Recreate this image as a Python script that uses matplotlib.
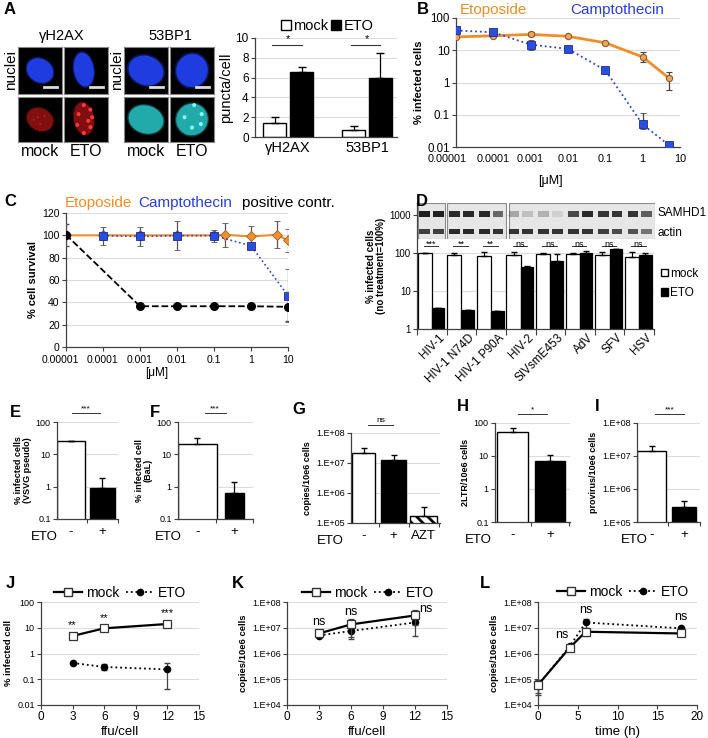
import matplotlib
matplotlib.use("Agg")
import matplotlib.pyplot as plt
import numpy as np
from matplotlib.patches import Ellipse, Circle, Rectangle, Patch
from matplotlib.lines import Line2D
from matplotlib.ticker import NullLocator
from matplotlib.transforms import ScaledTranslation

plt.rcParams['font.family'] = ['Liberation Sans', 'DejaVu Sans']
plt.rcParams['hatch.linewidth'] = 2.0

# ---------------- data ----------------
# A: foci per cell
a_targets = ["γH2AX", "53BP1"]
a_mock = [1.45, 0.75]
a_mock_err = [0.6, 0.4]
a_eto = [6.55, 5.95]
a_eto_err = [0.55, 2.5]
a_sig = ["*", "*"]

# A: micrographs (nucleus centre x, y, width, height, angle) and foci
a_cells = ["γH2AX mock", "γH2AX ETO", "53BP1 mock", "53BP1 ETO"]
a_nucleus = [(0.5, 0.5, 0.62, 0.5, -25), (0.45, 0.52, 0.45, 0.72, 10),
             (0.5, 0.5, 0.8, 0.62, -15), (0.5, 0.5, 0.72, 0.7, 25)]
a_foci_x = [[0.45, 0.6, 0.5, 0.36],
            [0.45, 0.6, 0.64, 0.6, 0.45, 0.33, 0.3, 0.55],
            [],
            [0.55, 0.33, 0.5, 0.7, 0.72]]
a_foci_y = [[0.55, 0.58, 0.4, 0.5],
            [0.82, 0.72, 0.55, 0.33, 0.2, 0.62, 0.38, 0.47],
            [],
            [0.82, 0.55, 0.32, 0.4, 0.62]]

# B: infection vs drug concentration
b_conc = [1e-5, 1e-4, 1e-3, 1e-2, 0.1, 1, 5]
b_eto = [26, 28, 31, 27, 17, 6.2, 1.38]
b_eto_lo = [0, 0, 4, 2, 1.5, 1.9, 0.78]
b_eto_hi = [0, 0, 6, 3, 1.5, 2.4, 0.72]
b_cpt = [41, 36, 15, 11, 2.4, 0.05, 0.0115]
b_cpt_lo = [0, 0, 5, 1, 0.3, 0.015, 0]
b_cpt_hi = [0, 0, 6, 1, 0.3, 0.06, 0]

# C: cell survival
c_eto_conc = [1e-5, 1e-4, 1e-3, 1e-2, 0.1, 0.2, 1, 5, 10]
c_eto = [100, 100, 100, 100, 100, 100.5, 99, 100.5, 95.5]
c_eto_err = [0, 0, 0, 0, 0, 10.5, 9.5, 12, 10]
c_cpt_conc = [1e-4, 1e-3, 1e-2, 0.1, 1, 10]
c_cpt = [99.7, 99, 99.7, 99.7, 90.7, 46]
c_cpt_err = [8, 8.5, 13, 5.5, 0, 24]
c_pos_conc = [1e-5, 1e-3, 1e-2, 0.1, 1, 10]
c_pos = [100.5, 36.5, 36.5, 36.5, 36.5, 36]
c_pos_err = [10, 0, 0, 0, 0, 13]

# D: viruses
d_viruses = ["HIV-1", "HIV-1 N74D", "HIV-1 P90A", "HIV-2", "SIVsmE453", "AdV", "SFV", "HSV"]
d_mock = [100, 90, 82, 90, 96, 95, 86, 78]
d_mock_err = [0, 8, 23, 15, 3, 3, 18, 28]
d_eto = [3.5, 3.2, 3.0, 43, 62, 100, 130, 90]
d_eto_err = [0, 0, 0, 2, 35, 12, 0, 8]
d_sig = ["***", "**", "**", "ns", "ns", "ns", "ns", "ns"]
# western blot band intensities, two lanes (mock, ETO) per virus
d_samhd1 = [0.95, 0.95, 0.9, 0.9, 0.9, 0.6, 0.3, 0.18, 0.25, 0.1, 0.75, 0.9, 0.85, 0.85, 0.85, 0.65]
d_actin = [0.8, 0.8, 0.9, 0.9, 0.9, 0.85, 0.85, 0.85, 0.85, 0.85, 0.85, 0.85, 0.8, 0.75, 0.7, 0.55]

# E-I
eto_groups = ["-", "+"]
e_vals = [25, 0.9]
e_err = [0, 1.0]
f_vals = [21, 0.65]
f_err = [11, 0.75]
g_groups = ["-", "+", "AZT"]
g_vals = [2.1e7, 1.3e7, 1.7e5]
g_err = [1.0e7, 5e6, 1.6e5]
h_vals = [55, 7]
h_err = [15, 4]
i_vals = [1.4e7, 2.8e5]
i_err = [6e6, 1.4e5]

# J-L
j_ffu = [3, 6, 12]
j_mock = [4.8, 9.5, 14]
j_mock_err = [0.8, 2, 2]
j_eto = [0.43, 0.3, 0.24]
j_eto_err = [0.05, 0.08, 0.2]
j_sig = ["**", "**", "***"]
k_ffu = [3, 6, 12]
k_mock = [6.0e6, 1.35e7, 3.0e7]
k_mock_err = [1.2e6, 9e6, 1.7e7]
k_eto = [5.0e6, 7.5e6, 1.6e7]
k_eto_err = [8e5, 4e6, 1.1e7]
l_time = [0, 4, 6, 18]
l_mock = [6.0e4, 1.7e6, 7.0e6, 6.0e6]
l_mock_err = [3.0e4, 3e5, 2e6, 1e6]
l_eto = [6.0e4, 1.9e6, 1.6e7, 9.5e6]
l_eto_err = [3.5e4, 3e5, 6e6, 1e6]

# ---------------- figure ----------------
W, H = 708, 738
fig = plt.figure(figsize=(W / 100, H / 100), dpi=100)


def axpx(l, t, r, b):
    return fig.add_axes([l / W, 1 - b / H, (r - l) / W, (b - t) / H])


def ftext(x, y, s, **kw):
    kw.setdefault('ha', 'center')
    kw.setdefault('va', 'center')
    fig.text(x / W, 1 - y / H, s, **kw)


def style(ax, grid=True):
    for s in ['top', 'right']:
        ax.spines[s].set_visible(False)
    for s in ['left', 'bottom']:
        ax.spines[s].set_color('#404040')
        ax.spines[s].set_linewidth(0.9)
    if grid:
        ax.grid(axis='y', color='#dcdcdc', lw=0.8)
        ax.set_axisbelow(True)
    ax.tick_params(length=3, width=0.8, color='#404040', pad=1.5)


def shift_first_xlabel(ax, dx_px):
    lab = ax.get_xticklabels()[0]
    lab.set_transform(lab.get_transform() + ScaledTranslation(dx_px / 100, 0, fig.dpi_scale_trans))


def letter(x, y, s):
    ftext(x, y, s, fontsize=12, fontweight='bold')


# ---- A: images ----
img_boxes = [[(18, 47, 62, 94), (18, 97, 62, 142)], [(64, 47, 108, 94), (64, 97, 108, 142)],
             [(124, 47, 168, 94), (124, 97, 168, 142)], [(170, 47, 214, 94), (170, 97, 214, 142)]]
stain_col = ['#c81818', '#c81818', '#25b5b5', '#25b5b5']
foci_col = ['#e03030', '#ff3a3a', '#60ffff', '#80ffff']
for k in range(4):
    cx, cy, w, h, ang = a_nucleus[k]
    for row in range(2):
        l, t, r, b = img_boxes[k][row]
        ax = axpx(l, t, r, b)
        ax.set_facecolor('black')
        ax.set_xlim(0, 1)
        ax.set_ylim(0, 1)
        ax.set_xticks([])
        ax.set_yticks([])
        for s in ax.spines.values():
            s.set_color('#888888')
            s.set_linewidth(0.8)
        if row == 0:
            col = '#1f3ce0'
            ax.add_patch(Ellipse((cx, cy), w * 1.1, h * 1.1, angle=ang, color=col, alpha=0.4, lw=0))
            ax.add_patch(Ellipse((cx, cy), w, h, angle=ang, color=col, lw=0))
            ax.plot([0.6, 0.88], [0.15, 0.15], color='#dddddd', lw=2)
        else:
            col = stain_col[k]
            alpha = 0.55 if k < 2 else 0.9
            ax.add_patch(Ellipse((cx, cy), w * 1.08, h * 1.08, angle=ang, color=col, alpha=alpha * 0.4, lw=0))
            ax.add_patch(Ellipse((cx, cy), w, h, angle=ang, color=col, alpha=alpha, lw=0))
            fa = 0.5 if k == 0 else 1.0
            fs = 0.025 if k == 0 else 0.045
            for fx, fy in zip(a_foci_x[k], a_foci_y[k]):
                ax.add_patch(Circle((fx, fy), fs, color=foci_col[k], alpha=fa, lw=0))

ftext(62, 36, "γH2AX", fontsize=10.5)
ftext(170, 36, "53BP1", fontsize=10.5)
ftext(11, 70, "nuclei", fontsize=11, rotation=90)
ftext(117, 70, "nuclei", fontsize=11, rotation=90)
for xm, xe in [(40, 86), (146, 192)]:
    ftext(xm, 152, "mock", fontsize=11.5)
    ftext(xe, 152, "ETO", fontsize=11.5)
letter(10, 10, "A")

# ---- A: bar chart ----
axA = axpx(255, 38, 397, 137)
style(axA)
xa = np.arange(len(a_targets))
axA.bar(xa - 0.17, a_mock, width=0.29, color='white', edgecolor='black', lw=1)
axA.bar(xa + 0.17, a_eto, width=0.29, color='black', edgecolor='black', lw=1)
axA.errorbar(xa - 0.17, a_mock, yerr=[np.zeros(2), a_mock_err], fmt='none', ecolor='black', elinewidth=0.9, capsize=3)
axA.errorbar(xa + 0.17, a_eto, yerr=[np.zeros(2), a_eto_err], fmt='none', ecolor='black', elinewidth=0.9, capsize=3)
axA.set_xlim(-0.42, 1.38)
axA.set_ylim(0, 10)
axA.set_yticks(range(0, 11, 2))
axA.set_xticks(xa, a_targets, fontsize=10.5)
axA.tick_params(axis='x', length=0, pad=3)
axA.tick_params(axis='y', labelsize=8.5)
axA.set_ylabel("puncta/cell", fontsize=10.5, labelpad=2)
for i, s in enumerate(a_sig):
    axA.plot([i - 0.2, i + 0.17], [9.3, 9.3], color='#333333', lw=0.8)
    axA.text(i, 9.35, s, ha='center', va='bottom', fontsize=8)
axA.legend(handles=[Patch(facecolor='white', edgecolor='black'), Patch(facecolor='black', edgecolor='black')],
           labels=["mock", "ETO"], loc='center', bbox_to_anchor=(327 / W, 1 - 26 / H), bbox_transform=fig.transFigure,
           ncol=2, frameon=False, fontsize=10.5, handlelength=0.7, handleheight=0.7, handletextpad=0.15,
           columnspacing=0.2, borderpad=0)

# ---- B ----
axB = axpx(456, 18, 680, 147)
style(axB)
axB.set_xscale('log')
axB.set_yscale('log')
axB.errorbar(b_conc, b_eto, yerr=[b_eto_lo, b_eto_hi], color='#f28c28', lw=2, marker='o', ms=4.5,
             mfc='#f2a65a', mec='#8a5a2a', mew=0.8, ecolor='#444444', elinewidth=0.9, capsize=2.5, zorder=3)
axB.errorbar(b_conc, b_cpt, yerr=[b_cpt_lo, b_cpt_hi], color='#2a44d8', lw=1.3, ls=':', marker='s', ms=5.5,
             mfc='#2a4ee0', mec='#1a2a90', mew=0.6, ecolor='#444444', elinewidth=0.9, capsize=2.5, zorder=4)
axB.set_xlim(1e-5, 10)
axB.set_ylim(0.01, 100)
axB.set_xticks([1e-5, 1e-4, 1e-3, 1e-2, 0.1, 1, 10], ["0.00001", "0.0001", "0.001", "0.01", "0.1", "1", "10"])
axB.set_yticks([0.01, 0.1, 1, 10, 100], ["0.01", "0.1", "1", "10", "100"])
axB.xaxis.set_minor_locator(NullLocator())
axB.yaxis.set_minor_locator(NullLocator())
axB.tick_params(axis='y', labelsize=8.3)
axB.tick_params(axis='x', labelsize=7.8, length=0, pad=5)
shift_first_xlabel(axB, -9)
axB.set_ylabel("% infected cells", fontsize=8, fontweight='bold', labelpad=2)
ftext(550, 181, "[μM]", fontsize=9)
ftext(493, 10, "Etoposide", fontsize=11, color='#f28c28')
ftext(617, 10, "Camptothecin", fontsize=11, color='#2a3fd6')
letter(423, 10, "B")

# ---- C ----
axC = axpx(66, 213, 288, 347)
style(axC)
axC.set_xscale('log')
axC.errorbar(c_eto_conc, c_eto, yerr=c_eto_err, color='#f28c28', lw=1.5, marker='D', ms=5,
             mfc='#f0912e', mec='#a0601a', mew=0.6, ecolor='#555555', elinewidth=0.9, capsize=2.5, zorder=3)
axC.errorbar(c_cpt_conc, c_cpt, yerr=c_cpt_err, color='#2a44d8', lw=1.2, ls=':', marker='s', ms=5.5,
             mfc='#2a4ee0', mec='#1a2a90', mew=0.6, ecolor='#555555', elinewidth=0.9, capsize=2.5, zorder=4)
axC.errorbar(c_pos_conc, c_pos, yerr=c_pos_err, color='black', lw=1.3, ls='--', marker='o', ms=5.5,
             mfc='black', mec='black', ecolor='#555555', elinewidth=0.9, capsize=2.5, zorder=5)
axC.set_xlim(1e-5, 10)
axC.set_ylim(0, 120)
axC.set_yticks(range(0, 121, 20))
axC.set_xticks([1e-5, 1e-4, 1e-3, 1e-2, 0.1, 1, 10], ["0.00001", "0.0001", "0.001", "0.01", "0.1", "1", "10"])
axC.xaxis.set_minor_locator(NullLocator())
axC.tick_params(labelsize=7.5)
axC.tick_params(axis='x', direction='out', length=3, pad=3)
shift_first_xlabel(axC, -6)
axC.set_ylabel("% cell survival", fontsize=8, fontweight='bold', labelpad=3)
ftext(157, 373, "[μM]", fontsize=8.5)
ftext(98, 203, "Etoposide", fontsize=11, color='#f28c28')
ftext(185, 203, "Camptothecin", fontsize=11, color='#2a3fd6')
ftext(288, 203, "positive contr.", fontsize=11)
letter(10, 201, "C")

# ---- D ----
axD = axpx(417, 203, 654, 329)
style(axD)
axD.set_yscale('log')
xd = np.arange(len(d_viruses))
axD.bar(xd - 0.24, d_mock, width=0.48, color='white', edgecolor='black', lw=0.9)
axD.bar(xd + 0.21, d_eto, width=0.42, color='black', edgecolor='black', lw=0.9)
axD.errorbar(xd - 0.24, d_mock, yerr=[np.zeros(8), d_mock_err], fmt='none', ecolor='black', elinewidth=0.8, capsize=2)
axD.errorbar(xd + 0.21, d_eto, yerr=[np.zeros(8), d_eto_err], fmt='none', ecolor='black', elinewidth=0.8, capsize=2)
axD.set_xlim(-0.5, 7.5)
axD.set_ylim(1, 2070)
axD.set_yticks([1, 10, 100, 1000], ["1", "10", "100", "1000"])
axD.yaxis.set_minor_locator(NullLocator())
axD.set_xticks(xd, d_viruses, rotation=45, ha='right', rotation_mode='anchor', fontsize=8.5)
axD.set_xticks(np.arange(-0.5, 8, 1), minor=True)
axD.tick_params(axis='x', which='major', length=0, pad=2)
axD.tick_params(axis='x', which='minor', length=4, width=0.8, color='#404040')
axD.tick_params(axis='y', labelsize=7)
for lab in axD.get_xticklabels():
    lab.set_transform(lab.get_transform() + ScaledTranslation(5 / 72, 0, fig.dpi_scale_trans))
axD.set_ylabel("% infected cells\n(no treatment=100%)", fontsize=7, fontweight='bold', labelpad=2, linespacing=1.0)
axD.legend(handles=[Patch(facecolor='white', edgecolor='black'), Patch(facecolor='black', edgecolor='black')],
           labels=["mock", "ETO"], loc='upper left', bbox_to_anchor=(655 / W, 1 - 262 / H),
           bbox_transform=fig.transFigure, frameon=False, fontsize=8.5, handlelength=0.6, handleheight=0.6,
           handletextpad=0.15, labelspacing=0.6, borderpad=0)
letter(422, 202, "D")

# western blot
axW = axpx(417, 203, 655, 239)
axW.set_xlim(-0.5, 7.5)
axW.set_ylim(0, 1)
axW.axis('off')
for x0, x1 in [(-0.47, 0.45), (0.52, 2.5), (2.6, 7.5)]:
    axW.add_patch(Rectangle((x0, 0.0), x1 - x0, 1.0, facecolor='#e6e6e6', edgecolor='#8a8a8a', lw=0.8))
for lane in range(len(d_samhd1)):
    xc = lane // 2 + (-0.24 if lane % 2 == 0 else 0.22)
    axW.add_patch(Rectangle((xc - 0.18, 0.62), 0.36, 0.17, facecolor='#151515', alpha=d_samhd1[lane], lw=0))
    axW.add_patch(Rectangle((xc - 0.18, 0.13), 0.36, 0.15, facecolor='#151515', alpha=d_actin[lane], lw=0))
ftext(657, 213, "SAMHD1", fontsize=8.5, ha='left')
ftext(657, 233, "actin", fontsize=8.5, ha='left')

# significance marks of D, drawn below the blot
for i, s in enumerate(d_sig):
    axD.plot([i - 0.27, i + 0.22], [152, 152], color='#333333', lw=0.7, zorder=6)
    axD.text(i - 0.02, 166, s, ha='center', va='center', fontsize=6.5, zorder=6)


# ---- E-I ----
def bar_panel(box, xlim, ylim, ticks, ticklabels, vals, errs, groups, colors, widths, ylabel, sig, sig_x, eto_x):
    ax = axpx(*box)
    style(ax)
    ax.set_yscale('log')
    x = np.arange(len(vals))
    hatches = [None, None, '\\\\\\']
    for j in range(len(vals)):
        ax.bar(x[j], vals[j], width=widths[j], color=colors[j], edgecolor='black', lw=1.0, hatch=hatches[j])
    ax.errorbar(x, vals, yerr=[np.zeros(len(vals)), errs], fmt='none', ecolor='black', elinewidth=0.9, capsize=2.5)
    ax.set_xlim(*xlim)
    ax.set_ylim(*ylim)
    ax.set_yticks(ticks, ticklabels)
    ax.yaxis.set_minor_locator(NullLocator())
    ax.set_xticks(x, groups, fontsize=9.5)
    ax.set_xticks(np.arange(0.5, len(vals), 1), minor=True)
    ax.tick_params(axis='x', which='major', length=0, pad=5)
    ax.tick_params(axis='x', which='minor', length=3, width=0.8, color='#404040')
    ax.tick_params(axis='y', labelsize=6.5)
    ax.set_ylabel(ylabel, fontsize=6.5, fontweight='bold', labelpad=3, linespacing=1.0)
    ax.plot(sig_x, [1.09, 1.09], transform=ax.get_xaxis_transform(), color='#333333', lw=0.7, clip_on=False)
    ax.text(np.mean(sig_x), 1.1, sig, transform=ax.get_xaxis_transform(), ha='center', va='bottom', fontsize=6)
    ftext(eto_x, box[3] + 18, "ETO", fontsize=9.5)
    return ax


dec_lab = ["0.1", "1", "10", "100"]
bar_panel((57, 422, 118, 519), (-0.44, 1.49), (0.1, 100), [0.1, 1, 10, 100], dec_lab, e_vals, e_err,
          eto_groups, ['white', 'black'], [0.88, 0.8], "% infected cells\n(VSVG pseudo)", "***", [0.05, 0.93], 44)
bar_panel((178, 422, 253, 519), (-0.52, 1.25), (0.1, 100), [0.1, 1, 10, 100], dec_lab, f_vals, f_err,
          eto_groups, ['white', 'black'], [1.04, 0.5], "% infected cell\n(BaL)", "***", [0.2, 0.76], 168)
sci_lab = ["1.E+05", "1.E+06", "1.E+07", "1.E+08"]
bar_panel((351, 433, 440, 523), (-0.42, 2.55), (1e5, 1e8), [1e5, 1e6, 1e7, 1e8], sci_lab, g_vals, g_err,
          g_groups, ['white', 'black', 'white'], [0.78, 0.83, 0.9], "copies/10e6 cells", "ns", [0.15, 0.98], 330)
bar_panel((495, 423, 570, 522), (-0.47, 1.53), (0.1, 100), [0.1, 1, 10, 100], dec_lab, h_vals, h_err,
          eto_groups, ['white', 'black'], [0.83, 0.8], "2LTR/10e6 cells", "*", [0.15, 0.92], 478)
bar_panel((637, 423, 700, 522), (-0.45, 1.43), (1e5, 1e8), [1e5, 1e6, 1e7, 1e8], sci_lab, i_vals, i_err,
          eto_groups, ['white', 'black'], [0.9, 0.75], "provirus/10e6 cells", "***", [0.1, 1.0], 634)
letter(15, 412, "E")
letter(155, 412, "F")
letter(299, 410, "G")
letter(463, 407, "H")
letter(597, 407, "I")


# ---- J-L ----
def line_panel(box, x, mock, mock_err, eto, eto_err, xlim, xticks, ylim, yticks, ylabels, ylabel, xlabel, leg_xy):
    ax = axpx(*box)
    style(ax)
    ax.set_yscale('log')
    ax.errorbar(x, eto, yerr=eto_err, color='black', lw=1.3, ls=':', marker='o', ms=4.5, mfc='black',
                mec='black', ecolor='#444444', elinewidth=0.9, capsize=2.5, zorder=3, clip_on=False)
    ax.errorbar(x, mock, yerr=mock_err, color='black', lw=1.6, marker='s', ms=6, mfc='white',
                mec='#333333', mew=0.9, ecolor='#444444', elinewidth=0.9, capsize=2.5, zorder=4, clip_on=False)
    ax.set_xlim(*xlim)
    ax.set_xticks(xticks)
    ax.set_ylim(*ylim)
    ax.set_yticks(yticks, ylabels)
    ax.yaxis.set_minor_locator(NullLocator())
    ax.tick_params(axis='x', labelsize=8.5, direction='out', length=3, pad=1.5)
    ax.tick_params(axis='y', labelsize=6.5)
    ax.set_ylabel(ylabel, fontsize=6.8, fontweight='bold', labelpad=3)
    ax.set_xlabel(xlabel, fontsize=9.5, labelpad=2)
    hm = Line2D([], [], color='black', lw=1.6, marker='s', ms=6, mfc='white', mec='#333333')
    he = Line2D([], [], color='black', lw=1.3, ls=':', marker='o', ms=4.5, mfc='black', mec='black')
    ax.legend([hm, he], ["mock", "ETO"], loc='center', bbox_to_anchor=(leg_xy[0] / W, 1 - leg_xy[1] / H),
              bbox_transform=fig.transFigure, ncol=2, frameon=False, fontsize=10, handlelength=2.0,
              handletextpad=0.3, columnspacing=0.5, borderpad=0)
    return ax


axJ = line_panel((41, 602, 199, 705), j_ffu, j_mock, j_mock_err, j_eto, j_eto_err, (0, 15), range(0, 16, 3),
                 (0.01, 100), [0.01, 0.1, 1, 10, 100], ["0.01", "0.1", "1", "10", "100"],
                 "% infected cell", "ffu/cell", (120, 593))
for xv, yv, s in zip(j_ffu, j_mock, j_sig):
    axJ.annotate(s, (xv, yv), xytext=(0, 4), textcoords='offset points', ha='center', va='bottom', fontsize=8)
letter(10, 583, "J")

sci4 = ["1.E+04", "1.E+05", "1.E+06", "1.E+07", "1.E+08"]
axK = line_panel((287, 602, 447, 705), k_ffu, k_mock, k_mock_err, k_eto, k_eto_err, (0, 15), range(0, 16, 3),
                 (1e4, 1e8), [1e4, 1e5, 1e6, 1e7, 1e8], sci4, "copies/10e6 cells", "ffu/cell", (368, 593))
for (dx, dy), xv, yv in zip([(0, 8), (0, 9), (8, 5)], k_ffu, k_mock):
    axK.annotate("ns", (xv, yv), xytext=(dx, dy), textcoords='offset points', ha='center', va='center', fontsize=9)
letter(238, 583, "K")

axL = line_panel((538, 602, 697, 705), l_time, l_mock, l_mock_err, l_eto, l_eto_err, (0, 20), range(0, 21, 5),
                 (1e4, 1e8), [1e4, 1e5, 1e6, 1e7, 1e8], sci4, "copies/10e6 cells", "time (h)", (623, 592))
for (dx, dy), xv, yv in zip([(-6, 8), (0, 9), (0, 8)], l_time[1:], l_eto[1:]):
    axL.annotate("ns", (xv, yv), xytext=(dx, dy), textcoords='offset points', ha='center', va='center', fontsize=9)
letter(485, 583, "L")

fig.savefig("out.png", dpi=100)
